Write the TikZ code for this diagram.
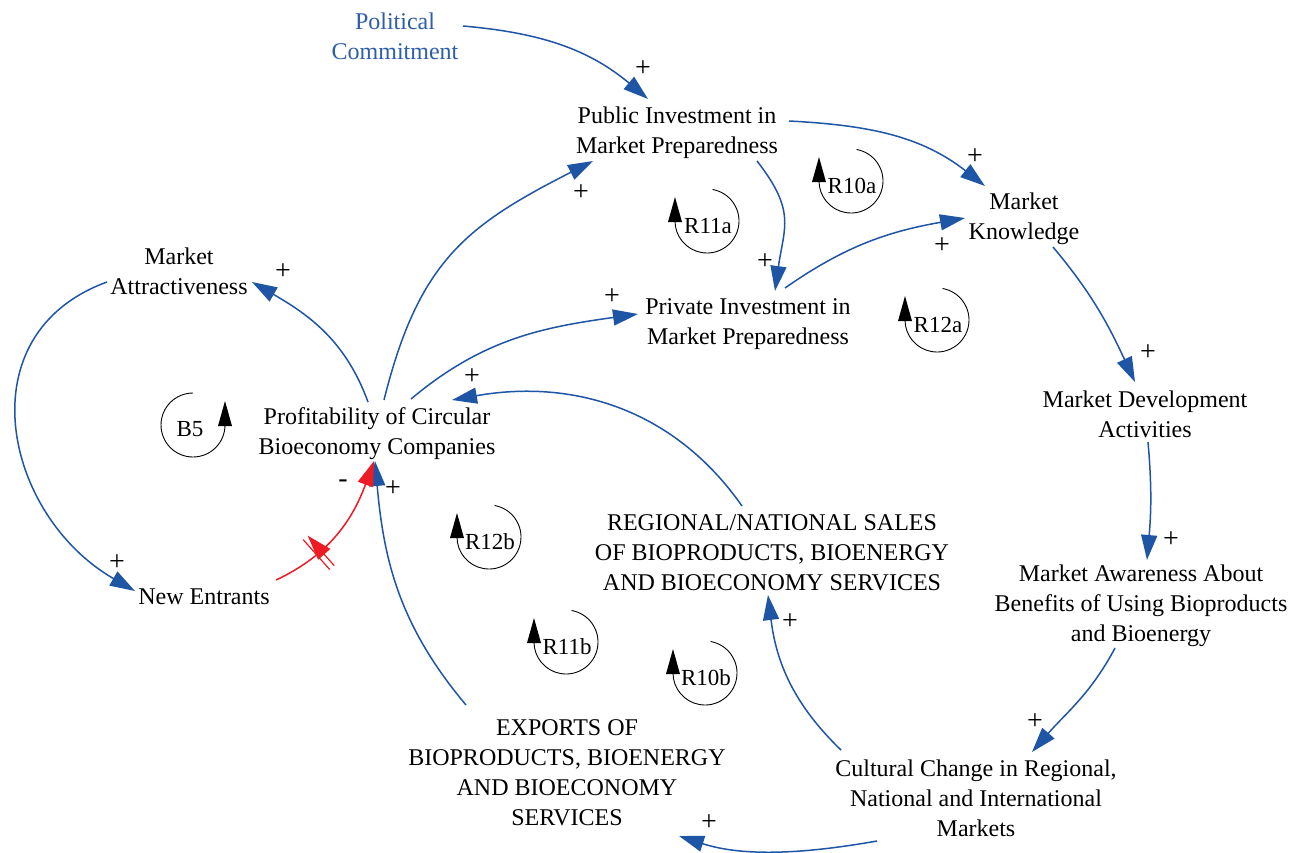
\documentclass[tikz,border=0pt]{standalone}
\usepackage{fontspec}
\setmainfont{Liberation Serif}
\usetikzlibrary{arrows.meta,decorations.markings}
\definecolor{linkblue}{RGB}{31,85,165}
\definecolor{polblue}{RGB}{46,94,170}
\definecolor{delayred}{RGB}{237,28,36}

% reinforcing loop marker: arc turning clockwise, arrow on the left side
\newcommand\reinforcing[4]{%
  \coordinate (#1c) at (#2,#3);
  \node[looplabel] (#1) at ([shift={(1,5)}]#1c) {#4};
  \draw[loopline] ([shift={(-80:32)}]#1c) arc[start angle=-80,end angle=180,radius=32];
  \fill ([shift={(-32,-24)}]#1c) -- ([shift={(-39,1)}]#1c) -- ([shift={(-25,1)}]#1c) -- cycle;
}
% balancing loop marker: arc turning counter-clockwise, arrow on the right side
\newcommand\balancing[4]{%
  \coordinate (#1c) at (#2,#3);
  \node[looplabel] (#1) at ([shift={(-3,4)}]#1c) {#4};
  \draw[loopline] ([shift={(-90:32)}]#1c) arc[start angle=-90,end angle=-360,radius=32];
  \fill ([shift={(32,-24)}]#1c) -- ([shift={(25,1)}]#1c) -- ([shift={(39,1)}]#1c) -- cycle;
}

\begin{document}
\begin{tikzpicture}[x=1pt,y=-1pt,
  var/.style={align=center,inner sep=0pt,font=\fontsize{24}{30}\selectfont},
  sign/.style={inner sep=0pt,font=\fontsize{28}{30}\selectfont},
  looplabel/.style={inner sep=0pt,font=\fontsize{23}{28}\selectfont},
  loopline/.style={draw=black,line width=0.9pt},
  link/.style={draw=linkblue,line width=1.5pt,-{Triangle[length=25pt,width=16pt]}},
  redlink/.style={draw=delayred,line width=1.5pt,-{Triangle[length=25pt,width=16pt]}},
  delay/.style={postaction={decorate,decoration={markings,
    mark=at position #1 with {\draw[delayred,line width=1.2pt]
      (-3pt,-20pt) -- (-3pt,20pt) (3pt,-20pt) -- (3pt,20pt);}}}}
]
\fill[white] (0,0) rectangle (1299,852);
\useasboundingbox (0,0) rectangle (1299,852);

% variables
\node[var,text=polblue] (pol) at (395,36) {Political\\Commitment};
\node[var] (pub)   at (677,133) {Public Investment in\\Market Preparedness};
\node[var] (mk)    at (1024,219) {Market\\Knowledge};
\node[var] (attr)  at (179,271) {Market\\Attractiveness};
\node[var] (priv)  at (748,324) {Private Investment in\\Market Preparedness};
\node[var] (prof)  at (377,434) {Profitability of Circular\\Bioeconomy Companies};
\node[var] (mdev)  at (1145,414) {Market Development\\Activities};
\node[var] (reg)   at (772,553) {REGIONAL/NATIONAL SALES\\OF BIOPRODUCTS, BIOENERGY\\AND BIOECONOMY SERVICES};
\node[var] (aware) at (1141,606) {Market Awareness About\\Benefits of Using Bioproducts\\and Bioenergy};
\node[var] (newe)  at (204,597) {New Entrants};
\node[var] (exp)   at (567,773) {EXPORTS OF\\BIOPRODUCTS, BIOENERGY\\AND BIOECONOMY\\SERVICES};
\node[var] (cult)  at (976,798) {Cultural Change in Regional,\\National and International\\Markets};

% causal links (out/in angles are measured on the page, counter-clockwise)
\draw[link] ([shift={(68,-10)}]pol.center) to[out=-5,in=140] ([shift={(-29,-34)}]pub.center);
\draw[link] ([shift={(112,-12)}]pub.center) to[out=-3,in=142] ([shift={(-39,-33)}]mk.center);
\draw[link] ([shift={(80,28)}]pub.center) to[out=-52,in=82,looseness=1.25] ([shift={(27,-33)}]priv.center);
\draw[link] ([shift={(37,-36)}]priv.center) to[out=35,in=190] ([shift={(-59,-1)}]mk.center);
\draw[link] ([shift={(7,-34)}]prof.center) to[out=76,in=207,looseness=1.15] ([shift={(-84,28)}]pub.center);
\draw[link] ([shift={(34,-35)}]prof.center) to[out=40,in=188] ([shift={(-110,-10)}]priv.center);
\draw[link] ([shift={(-30,-47)}]reg.center) to[out=125,in=10] ([shift={(75,-34)}]prof.center);
\draw[link] ([shift={(-9,-32)}]prof.center) to[out=110,in=-30] ([shift={(73,11)}]attr.center);
\draw[link] ([shift={(-72,11)}]attr.center) to[out=200,in=150,looseness=1.25] ([shift={(-69,-6)}]newe.center);
\draw[link] ([shift={(-101,-68)}]exp.center) to[out=130,in=-85] ([shift={(-2,27)}]prof.center);
\draw[redlink,delay=0.32] ([shift={(72,-17)}]newe.center) to[out=25,in=250] ([shift={(-3,27)}]prof.center);
\draw[link] ([shift={(-135,-48)}]cult.center) to[out=136,in=-83] ([shift={(-4,42)}]reg.center);
\draw[link] ([shift={(-99,43)}]cult.center) to[out=190,in=-18,looseness=0.9] ([shift={(112,63)}]exp.center);
\draw[link] ([shift={(29,28)}]mk.center) to[out=-50,in=115] ([shift={(-10,-32)}]mdev.center);
\draw[link] ([shift={(3,28)}]mdev.center) to[out=-85,in=85] ([shift={(6,-46)}]aware.center);
\draw[link] ([shift={(-26,42)}]aware.center) to[out=-118,in=49] ([shift={(56,-46)}]cult.center);

% link polarities
\node[sign] (s1)  at (643,69)  {+};
\node[sign] (s2)  at (975,157) {+};
\node[sign] (s3)  at (765,262) {+};
\node[sign] (s4)  at (942,246) {+};
\node[sign] (s5)  at (581,193) {+};
\node[sign] (s6)  at (612,297) {+};
\node[sign] (s7)  at (472,377) {+};
\node[sign] (s8)  at (283,272) {+};
\node[sign] (s9)  at (117,563) {+};
\node[sign] (s10) at (343,484) {-};
\node[sign] (s11) at (393,489) {+};
\node[sign] (s12) at (790,622) {+};
\node[sign] (s13) at (709,823) {+};
\node[sign] (s14) at (1148,353) {+};
\node[sign] (s15) at (1171,540) {+};
\node[sign] (s16) at (1035,722) {+};

% loop markers
\reinforcing{r10a}{851}{181}{R10a}
\reinforcing{r11a}{707}{221}{R11a}
\reinforcing{r12a}{937}{320}{R12a}
\balancing{b5}{193}{425}{B5}
\reinforcing{r12b}{489}{537}{R12b}
\reinforcing{r11b}{566}{642}{R11b}
\reinforcing{r10b}{705}{673}{R10b}
\end{tikzpicture}
\end{document}
